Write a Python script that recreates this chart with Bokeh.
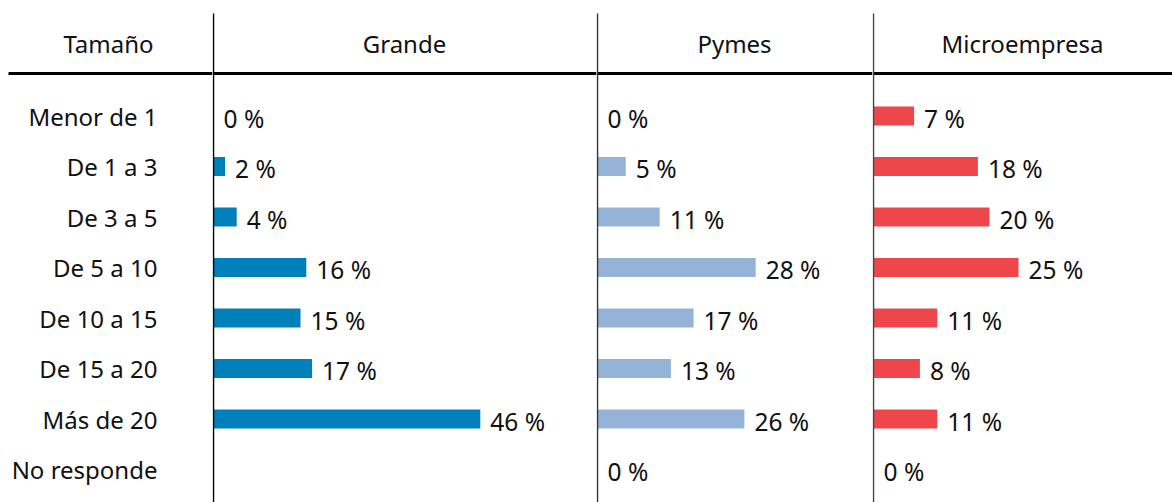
from bokeh.plotting import figure
from bokeh.layouts import row
from bokeh.models import ColumnDataSource, Range1d
from bokeh.core.properties import value
from bokeh.embed import file_html
from bokeh.resources import INLINE

categories = ["Menor de 1", "De 1 a 3", "De 3 a 5", "De 5 a 10",
              "De 10 a 15", "De 15 a 20", "Más de 20", "No responde"]
header_first = "Tamaño"
panel_names = ["Grande", "Pymes", "Microempresa"]
grande = [0, 2, 4, 16, 15, 17, 46, None]
pymes = [0, 5, 11, 28, 17, 13, 26, 0]
micro = [7, 18, 20, 25, 11, 8, 11, 0]
series = [grande, pymes, micro]
colors = ["#0080BA", "#95B3D7", "#EF464C"]

FONT = value("Noto Sans")
FS = "24px"
LFS = "24.5px"
H = 502
ROW0, STEP = 115.5, 50.5
def r_of(py):
    return (py - ROW0) / STEP
Y_TOP, Y_BOT = r_of(0), r_of(H)
HEADER_Y = r_of(43)
HLINE_Y = r_of(73)
VTOP_Y = r_of(13)
BAR_H = 19 / STEP

def base_fig(width, xr):
    p = figure(width=width, height=H, output_backend="svg", toolbar_location=None,
               x_range=xr, y_range=Range1d(Y_BOT, Y_TOP), min_border=0,
               min_border_left=0, min_border_right=0, min_border_top=0, min_border_bottom=0)
    p.axis.visible = False
    p.grid.visible = False
    p.outline_line_color = None
    p.background_fill_color = "white"
    p.border_fill_color = "white"
    return p

rows_idx = list(range(len(categories)))

LW = 212
left = base_fig(LW, Range1d(0, LW))
left.text(x=[108], y=[HEADER_Y], text=[header_first], text_font=FONT,
          text_font_size=FS, text_align="center", text_baseline="middle", text_color="#111111")
left.text(x=[157] * len(categories), y=rows_idx, text=categories, text_font=FONT,
          text_font_size=FS, text_align="right", text_baseline="middle", text_color="#111111")
left.segment(x0=[8], y0=[HLINE_Y], x1=[LW], y1=[HLINE_Y], line_color="black", line_width=3)

widths = [384, 276, 300]
scales = [5.8, 5.65, 5.8]  # px per percent
line_cols = ["#000000", "#333333", "#444444"]
figs = [left]
for name, vals, col, w, sc, lc in zip(panel_names, series, colors, widths, scales, line_cols):
    x0 = -1.0 / sc
    p = base_fig(w, Range1d(x0, x0 + w / sc))
    ys = [i for i, v in enumerate(vals) if v is not None]
    vs = [v for v in vals if v is not None]
    src = ColumnDataSource(dict(y=ys, v=vs, lab=[f"{v} %" for v in vs]))
    p.hbar(y="y", right="v", left=0, height=BAR_H, source=src, fill_color=col, line_color=None)
    p.text(x="v", y="y", text="lab", source=src, x_offset=10, y_offset=2, text_font=FONT,
           text_font_size=LFS, text_baseline="middle", text_color="#111111")
    xmid = x0 + w / sc / 2
    p.text(x=[xmid], y=[HEADER_Y], text=[name], text_font=FONT, text_font_size=FS,
           text_align="center", text_baseline="middle", text_color="#111111")
    p.segment(x0=[x0], y0=[HLINE_Y], x1=[x0 + w / sc], y1=[HLINE_Y], line_color="black", line_width=3)
    p.segment(x0=[0], y0=[VTOP_Y], x1=[0], y1=[Y_BOT], line_color=lc, line_width=1.5)
    figs.append(p)

layout = row(*figs, spacing=0)
open("out.html", "w").write(file_html(layout, INLINE))
